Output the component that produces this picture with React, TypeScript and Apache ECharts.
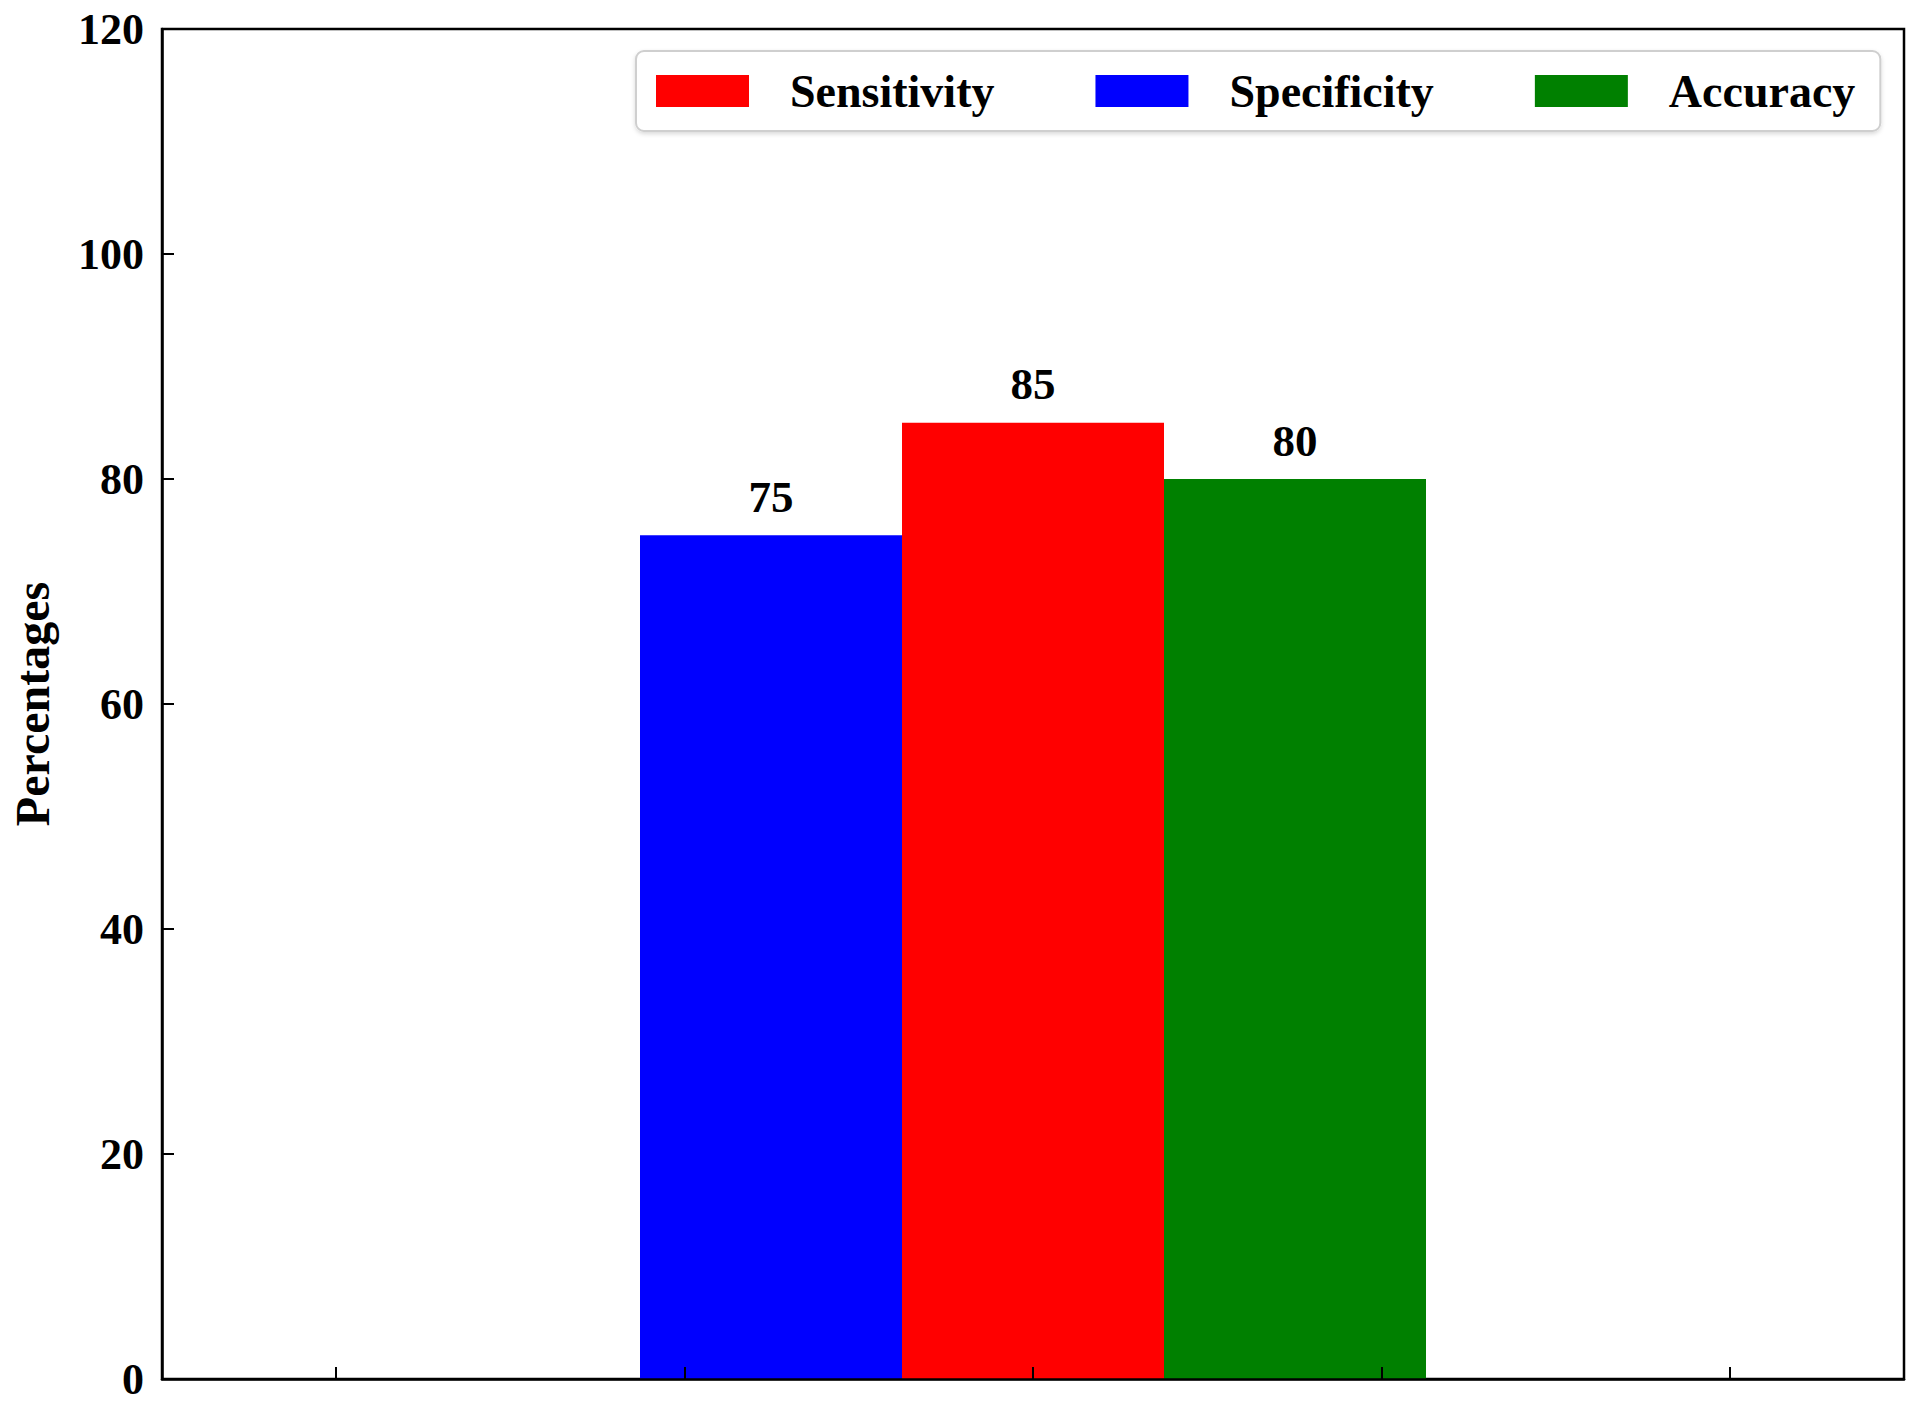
import React, { useEffect, useRef } from "react";
import * as echarts from "echarts";

const categories = ["A", "B", "C", "D", "E"];
const sensitivity = [null, null, 85, null, null];
const specificity = [null, null, 75, null, null];
const accuracy = [null, null, 80, null, null];
const yTicks = { min: 0, max: 120, interval: 20 };
const legendOrder = ["Sensitivity", "Specificity", "Accuracy"];

const FONT = "'Liberation Serif', 'Times New Roman', serif";

export default function App() {
  const ref = useRef<HTMLDivElement>(null);
  useEffect(() => {
    if (!ref.current) return;
    const chart = echarts.init(ref.current, null, { renderer: "svg" });
    const label = {
      show: true,
      position: "top",
      distance: 16,
      fontFamily: FONT,
      fontWeight: "bold",
      fontSize: 45,
      color: "#000",
    };
    chart.setOption({
      animation: false,
      backgroundColor: "#fff",
      grid: {
        left: 159,
        right: 16,
        top: 29,
        bottom: 28,
        show: true,
        borderColor: "#000",
        borderWidth: 2.5,
        backgroundColor: "transparent",
      },
      legend: {
        data: legendOrder,
        left: 636,
        top: 51,
        orient: "horizontal",
        itemWidth: 93,
        itemHeight: 32,
        itemGap: 101,
        padding: [17, 25, 17, 20],
        borderColor: "#cfcfcf",
        borderWidth: 2,
        borderRadius: 8,
        backgroundColor: "#fff",
        shadowColor: "rgba(0,0,0,0.15)",
        shadowBlur: 4,
        shadowOffsetY: 2,
        icon: "rect",
        textStyle: {
          fontFamily: FONT,
          fontWeight: "bold",
          fontSize: 46,
          color: "#000",
          width: 210,
          padding: [0, 0, 0, 36],
        },
      },
      xAxis: {
        type: "category",
        data: categories,
        boundaryGap: true,
        z: 10,
        axisLine: { show: true, lineStyle: { color: "#000", width: 2.5 } },
        axisTick: { show: true, inside: true, alignWithLabel: true, length: 12, lineStyle: { color: "#000", width: 2 } },
        axisLabel: { show: false },
        splitLine: { show: false },
      },
      yAxis: {
        type: "value",
        min: yTicks.min,
        max: yTicks.max,
        interval: yTicks.interval,
        z: 10,
        name: "Percentages",
        nameLocation: "middle",
        nameGap: 106,
        nameTextStyle: { fontFamily: FONT, fontWeight: "bold", fontSize: 48, color: "#000" },
        axisLine: { show: true, lineStyle: { color: "#000", width: 2.5 } },
        axisTick: { show: true, inside: true, length: 12, lineStyle: { color: "#000", width: 2 } },
        axisLabel: { fontFamily: FONT, fontWeight: "bold", fontSize: 44, color: "#000", margin: 18 },
        splitLine: { show: false },
      },
      series: [
        { name: "Specificity", type: "bar", data: specificity, barWidth: 262, barGap: "0%", itemStyle: { color: "#0000ff" }, label },
        { name: "Sensitivity", type: "bar", data: sensitivity, barWidth: 262, barGap: "0%", itemStyle: { color: "#ff0000" }, label },
        { name: "Accuracy", type: "bar", data: accuracy, barWidth: 262, barGap: "0%", itemStyle: { color: "#008000" }, label },
      ],
    });
    return () => chart.dispose();
  }, []);
  return <div ref={ref} style={{ position: "fixed", left: 0, top: 0, width: 1920, height: 1407 }} />;
}
